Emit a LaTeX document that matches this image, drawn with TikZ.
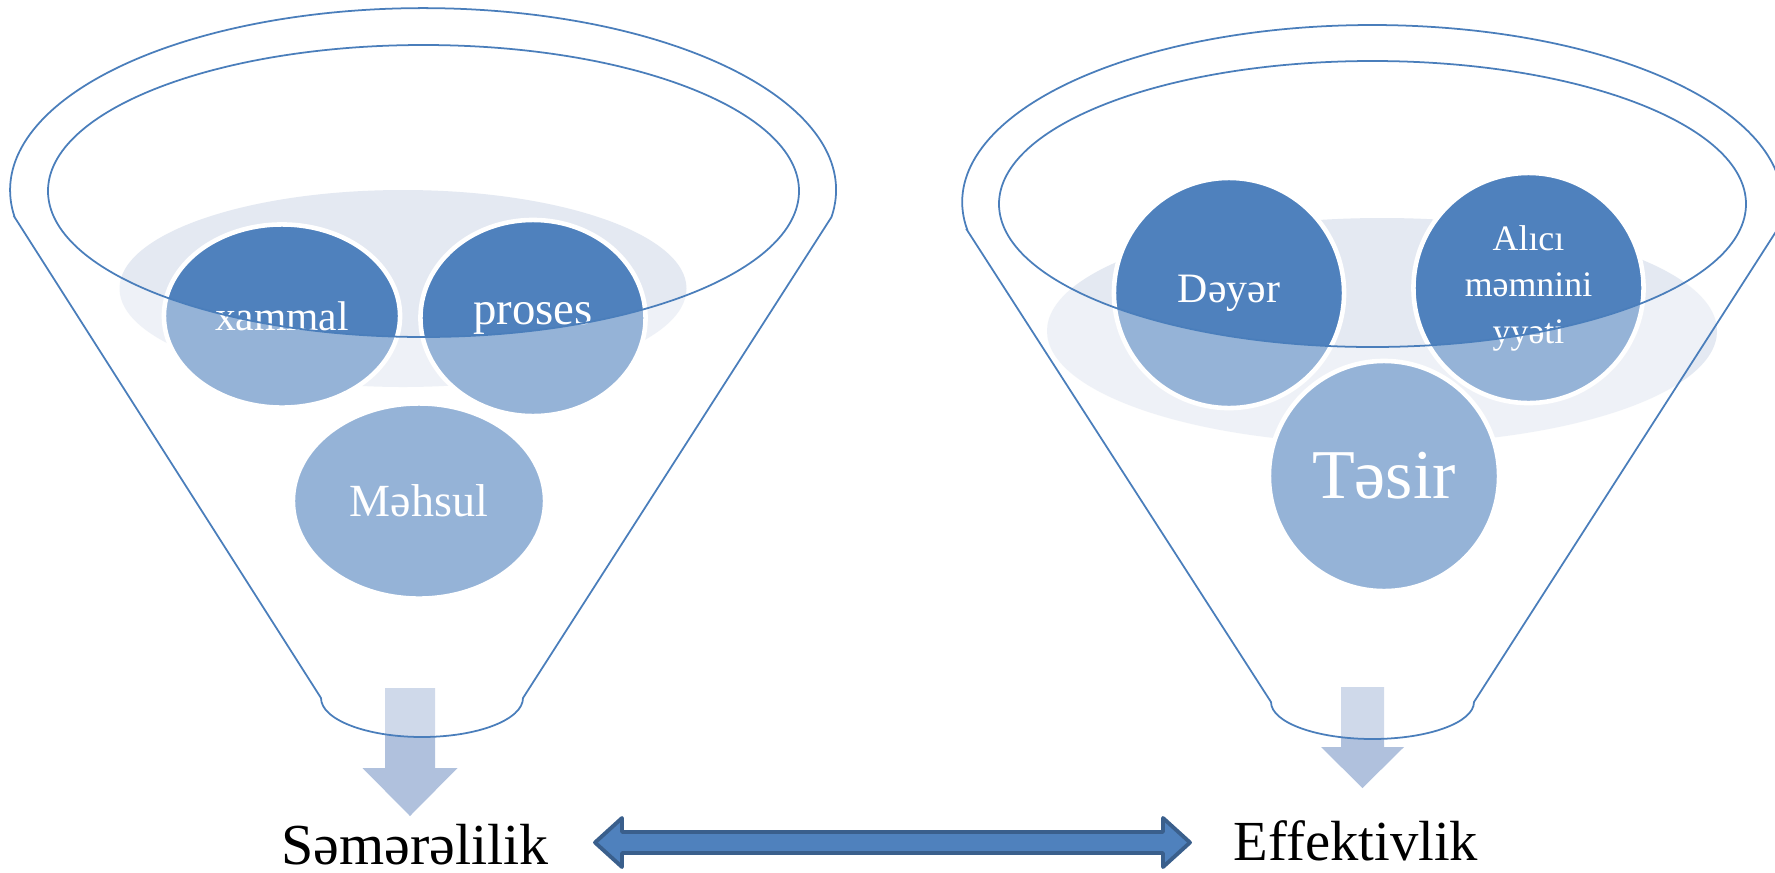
\documentclass[tikz,border=0pt]{standalone}
\usepackage{fontspec}
\setmainfont{Liberation Serif}
\usetikzlibrary{shapes.geometric}
\definecolor{fblue}{HTML}{4F81BD}
\definecolor{fline}{HTML}{4A7EBB}
\definecolor{bgell}{HTML}{E4E9F2}
\definecolor{arrowc}{HTML}{B0C1DD}
\definecolor{darrb}{HTML}{3A5F8C}
\begin{document}
\begin{tikzpicture}[x=0.01cm,y=-0.01cm,
  bgellipse/.style={fill=bgell},
  bubble/.style={ellipse, fill=fblue, draw=white, line width=1.3pt, text=white, align=center, inner sep=0pt},
  funnel/.style={fill=white, fill opacity=0.4, draw=fline, line width=0.5pt, even odd rule},
  downarrow/.style={fill=arrowc},
  bigarrow/.style={fill=fblue, draw=darrb, line width=1.1pt, line join=round},
  lbl/.style={text=black, inner sep=0pt, anchor=base}]
\path[use as bounding box] (0,0) rectangle (1775,872);
\fill[white] (0,0) rectangle (1775,872);
\clip (0,0) rectangle (1775,872);

% ---------- left funnel ----------
\fill[bgellipse] (403,288.5) ellipse [x radius=283.5, y radius=98.5];
\node[bubble, minimum width=2.36cm, minimum height=1.83cm, font=\fontsize{11.8}{14}\selectfont] (xammal) at (282,316) {xammal};
\node[bubble, minimum width=2.25cm, minimum height=1.96cm, font=\fontsize{13.3}{16}\selectfont] (proses) at (533,318) {proses};
\node[bubble, minimum width=2.52cm, minimum height=1.95cm, font=\fontsize{13.1}{16}\selectfont] (mehsul) at (419,501) {Məhsul};
\fill[downarrow] (385,688) -- (435,688) -- (435,768) -- (457.5,768) -- (410,816) -- (362.5,768) -- (385,768) -- cycle;
\path[funnel] (14.5,217) -- (321,698) arc[start angle=180, end angle=0, x radius=101, y radius=39]
  -- (831.5,217) arc[start angle=8.5, end angle=-188.5, x radius=413, y radius=182] -- cycle
  (423.5,191) ellipse [x radius=375.5, y radius=146];

% ---------- right funnel ----------
\fill[bgellipse] (1382,331) ellipse [x radius=335, y radius=113];
\node[bubble, circle, minimum size=2.30cm, font=\fontsize{11.9}{14}\selectfont] (deyer) at (1229,293) {Dəyər};
\node[bubble, circle, minimum size=2.30cm, font=\fontsize{10.2}{13.2}\selectfont] (alici) at (1528.5,288) {Alıcı\\məmnini\\yyəti};
\node[bubble, circle, minimum size=2.30cm, font=\fontsize{19.9}{24}\selectfont] (tesir) at (1384,476) {Təsir};
\fill[downarrow] (1341,687) -- (1384,687) -- (1384,747) -- (1404,747) -- (1362.5,788) -- (1321,747) -- (1341,747) -- cycle;
\path[funnel] (967,230) -- (1271,702) arc[start angle=180, end angle=0, x radius=101.5, y radius=37]
  -- (1777,230) arc[start angle=9.1, end angle=-189.1, x radius=410, y radius=177] -- cycle
  (1372.5,204) ellipse [x radius=373.5, y radius=143];

% ---------- labels ----------
\node[lbl, font=\fontsize{16.5}{20}\selectfont] (semere) at (415,864) {Səmərəlilik};
\node[lbl, font=\fontsize{16.1}{20}\selectfont] (effekt) at (1356,860) {Effektivlik};

% ---------- double arrow ----------
\coordinate (dl) at (595,842.5);
\coordinate (dr) at (1190,842.5);
\draw[bigarrow] (dl) -- ++(27,-24.5) -- ++(0,14) -- ++(541,0) -- ++(0,-14) -- (dr)
  -- ++(-27,24.5) -- ++(0,-14) -- ++(-541,0) -- ++(0,14) -- cycle;
\end{tikzpicture}
\end{document}
